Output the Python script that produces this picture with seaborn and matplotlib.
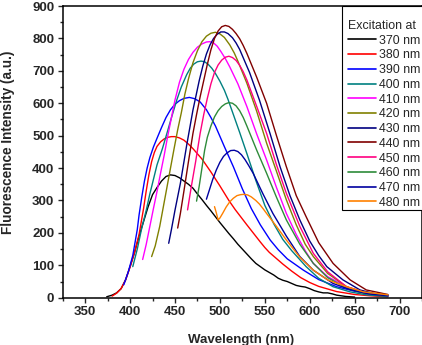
import numpy as np
import pandas as pd
import matplotlib
matplotlib.use("Agg")
import matplotlib.pyplot as plt
from matplotlib.ticker import MultipleLocator
from matplotlib.patches import Rectangle
import seaborn as sns

# Emission spectra for each excitation wavelength (wavelength in nm, intensity in a.u.)
wl_370 = [374, 380, 385, 390, 395, 400, 405, 410, 415, 420, 425, 430, 435, 440, 445, 450, 455, 460,
          465, 470, 475, 480, 485, 490, 495, 500, 505, 510, 515, 520, 525, 530, 535, 540, 545, 550,
          555, 560, 565, 570, 575, 580, 585, 590, 595, 600, 605, 610, 615, 620, 625, 630, 635, 640,
          645, 650]
in_370 = [3, 8, 15, 28, 55, 96, 140, 190, 235, 280, 318, 340, 360, 374, 379, 377, 370, 360,
          350, 338, 320, 303, 285, 268, 250, 232, 215, 198, 182, 165, 150, 135, 120, 106, 96, 86,
          78, 70, 60, 54, 50, 44, 38, 35, 33, 28, 22, 18, 15, 15, 12, 8, 6, 4, 3, 2]

wl_380 = [380, 385, 390, 395, 400, 405, 410, 415, 418, 421, 424, 427, 430, 434, 438, 442, 446, 450,
          455, 460, 465, 470, 480, 490, 500, 510, 517, 530, 545, 550, 555, 560, 565, 570, 575, 580,
          590, 600, 610, 630, 650, 667, 687]
in_380 = [5, 14, 28, 55, 95, 140, 195, 275, 330, 380, 420, 448, 467, 481, 490, 495, 497, 497,
          493, 486, 474, 460, 428, 388, 345, 300, 272, 225, 172, 155, 140, 128, 116, 104, 93, 82,
          62, 47, 35, 19, 10, 6, 3]

wl_390 = [393, 398, 403, 408, 410, 413, 416, 419, 422, 426, 430, 435, 440, 445, 450, 455, 460, 466,
          472, 478, 485, 490, 495, 505, 515, 525, 535, 545, 556, 565, 575, 593, 610, 630, 650, 668, 687]
in_390 = [40, 80, 130, 210, 255, 310, 360, 400, 432, 465, 492, 525, 556, 580, 597, 608, 615, 618,
          614, 604, 580, 556, 530, 466, 404, 336, 275, 225, 178, 148, 120, 85, 56, 34, 20, 12, 5]

wl_400 = [403, 408, 413, 418, 422, 430, 436, 441, 446, 452, 457, 463, 467, 471, 475, 479, 483, 487,
          491, 495, 500, 505, 509, 515, 522, 530, 540, 550, 560, 570, 580, 596, 610, 626, 645, 663, 687]
in_400 = [96, 150, 215, 270, 320, 410, 460, 507, 555, 610, 650, 688, 708, 721, 728, 730, 728, 720,
          708, 692, 668, 640, 612, 565, 510, 445, 362, 285, 228, 180, 145, 96, 60, 34, 18, 9, 4]

wl_410 = [414, 418, 422, 426, 430, 434, 438, 442, 446, 450, 455, 460, 465, 470, 475, 480, 485, 489,
          493, 497, 501, 506, 511, 520, 530, 541, 552, 563, 574, 585, 595, 604, 620, 641, 660, 687]
in_410 = [118, 165, 220, 275, 328, 385, 440, 500, 555, 610, 665, 705, 735, 757, 773, 783, 789, 790,
          786, 776, 760, 738, 712, 660, 590, 505, 425, 340, 260, 195, 145, 106, 65, 34, 17, 6]

wl_420 = [424, 428, 433, 437, 441, 445, 449, 453, 457, 461, 465, 470, 475, 480, 485, 490, 495, 500,
          505, 511, 516, 520, 530, 541, 552, 563, 574, 585, 595, 604, 620, 641, 660, 687]
in_420 = [127, 160, 220, 280, 340, 400, 460, 518, 570, 628, 675, 725, 762, 790, 807, 816, 819, 814,
          803, 780, 755, 730, 662, 575, 477, 390, 302, 225, 165, 127, 75, 34, 17, 7]

wl_430 = [443, 446, 450, 456, 463, 470, 477, 481, 485, 489, 493, 497, 501, 505, 509, 514, 518, 522,
          533, 544, 556, 567, 578, 589, 600, 610, 619, 637, 656, 670, 687]
in_430 = [168, 210, 270, 353, 470, 579, 670, 715, 752, 780, 800, 813, 820, 820, 815, 802, 786, 766,
          695, 610, 505, 404, 315, 240, 175, 130, 96, 55, 24, 14, 8]

wl_440 = [453, 456, 460, 465, 470, 474, 478, 482, 486, 490, 494, 498, 502, 506, 510, 514, 518, 522,
          526, 530, 541, 552, 563, 574, 585, 596, 610, 626, 645, 663, 687]
in_440 = [215, 260, 330, 420, 507, 565, 620, 670, 720, 765, 800, 823, 836, 840, 837, 828, 815, 799,
          778, 754, 680, 600, 500, 404, 315, 250, 170, 106, 55, 24, 10]

wl_450 = [464, 468, 473, 478, 482, 486, 490, 494, 498, 502, 506, 510, 514, 518, 522, 526, 530, 541,
          552, 563, 574, 589, 604, 620, 641, 660, 687]
in_450 = [271, 340, 420, 507, 565, 615, 660, 695, 718, 733, 742, 745, 741, 732, 717, 697, 672, 590,
          507, 410, 322, 220, 137, 80, 34, 17, 7]

wl_460 = [474, 477, 480, 483, 486, 490, 494, 498, 502, 506, 510, 514, 518, 522, 526, 530, 541, 552,
          563, 574, 589, 604, 620, 641, 660, 687]
in_460 = [298, 345, 400, 455, 495, 530, 558, 577, 590, 598, 602, 600, 592, 577, 556, 530, 455, 384,
          310, 240, 165, 106, 62, 29, 14, 6]

wl_470 = [485, 488, 492, 496, 500, 504, 508, 512, 516, 520, 524, 528, 532, 537, 548, 559, 574, 589,
          604, 626, 645, 665, 687]
in_470 = [304, 330, 365, 394, 418, 436, 447, 454, 455, 451, 441, 426, 408, 384, 320, 260, 190, 127,
          85, 44, 25, 12, 6]

wl_480 = [494, 496, 498, 500, 503, 507, 511, 515, 519, 523, 527, 531, 535, 540, 544, 548, 552, 563,
          574, 589, 604, 620, 641, 660, 687]
in_480 = [281, 262, 240, 246, 260, 280, 296, 307, 315, 318, 319, 317, 311, 300, 289, 275, 260, 220,
          178, 125, 85, 55, 34, 18, 9]

labels = ["370 nm", "380 nm", "390 nm", "400 nm", "410 nm", "420 nm",
          "430 nm", "440 nm", "450 nm", "460 nm", "470 nm", "480 nm"]
colors = ["#000000", "#FF0000", "#0000FF", "#008080", "#FF00FF", "#808000",
          "#000080", "#800000", "#FF0080", "#2E8B3A", "#0000A0", "#FF8000"]

series = [(wl_370, in_370), (wl_380, in_380), (wl_390, in_390), (wl_400, in_400),
          (wl_410, in_410), (wl_420, in_420), (wl_430, in_430), (wl_440, in_440),
          (wl_450, in_450), (wl_460, in_460), (wl_470, in_470), (wl_480, in_480)]

frames = []
for lab, (w, v) in zip(labels, series):
    frames.append(pd.DataFrame({"Wavelength": w, "Intensity": v, "Excitation": lab}))
df = pd.concat(frames, ignore_index=True)

sns.set_style("ticks")
plt.rcParams["font.family"] = ["Liberation Sans", "DejaVu Sans"]

fig = plt.figure(figsize=(4.22, 3.45), dpi=100)
ax = fig.add_axes([0.1486, 0.137, 0.8514, 0.8456])

sns.lineplot(data=df, x="Wavelength", y="Intensity", hue="Excitation",
             palette=dict(zip(labels, colors)), hue_order=labels,
             sort=False, estimator=None, linewidth=1.0, ax=ax)

ax.set_xlim(325, 725)
ax.set_ylim(0, 900)
ax.xaxis.set_major_locator(MultipleLocator(50))
ax.xaxis.set_minor_locator(MultipleLocator(25))
ax.yaxis.set_major_locator(MultipleLocator(100))
ax.yaxis.set_minor_locator(MultipleLocator(50))
ax.set_xticks([350, 400, 450, 500, 550, 600, 650, 700])

ax.tick_params(which="major", direction="out", length=3.6, width=1.0, pad=2.5,
               labelsize=9.5, top=False, right=False)
ax.tick_params(which="minor", direction="out", length=2.0, width=1.0, top=False, right=False)
for lbl in ax.get_xticklabels() + ax.get_yticklabels():
    lbl.set_fontweight("bold")

for s in ax.spines.values():
    s.set_linewidth(1.1)
    s.set_color("black")

ax.set_xlabel("Wavelength (nm)", fontsize=9.5, fontweight="bold")
ax.set_ylabel("Fluorescence Intensity (a.u.)", fontsize=9.8, fontweight="bold")
ax.xaxis.set_label_coords(0.4975, -0.125)
ax.yaxis.set_label_coords(-0.133, 0.533)

# Legend box: open at the right, top edge on the axes frame
box = Rectangle((0.776, 0.3007), 0.4, 0.7, transform=ax.transAxes, facecolor="white",
                edgecolor="black", linewidth=0.8, clip_on=False, zorder=4.5)
ax.add_patch(box)

handles, _ = ax.get_legend_handles_labels()
leg = ax.legend(handles=handles, labels=labels, title="Excitation at",
                loc="upper left", bbox_to_anchor=(0.776, 0.973), borderaxespad=0,
                fontsize=8.9, title_fontsize=8.9, frameon=False,
                handlelength=2.3, handletextpad=0.2,
                labelspacing=0.22, borderpad=0.5, alignment="left")
leg.set_zorder(6)
for ln in leg.get_lines():
    ln.set_linewidth(1.2)

fig.savefig("out.png", dpi=100)
